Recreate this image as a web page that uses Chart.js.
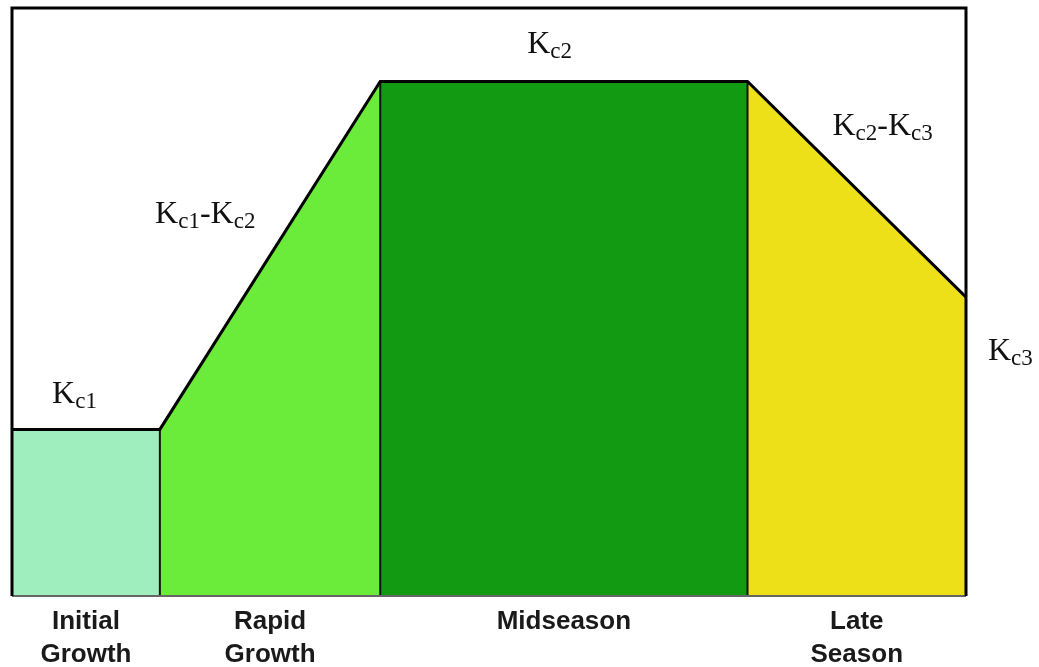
<!DOCTYPE html>
<html>
<head>
<meta charset="utf-8">
<script src="https://cdn.jsdelivr.net/npm/chart.js@4/dist/chart.umd.min.js"></script>
<style>
  html, body { margin: 0; padding: 0; background: #fff; }
  #wrap { width: 1039px; height: 667px; }
</style>
</head>
<body>
<div id="wrap"><canvas id="kcChart"></canvas></div>
<script>
// growth stages (percent of season) and crop coefficients
var stageBreaks = [0, 15.5, 38.6, 77.1, 100];
var kcValues    = [0.34, 0.34, 1.05, 1.05, 0.61];
var stageNames  = [['Initial', 'Growth'], ['Rapid', 'Growth'], ['Midseason'], ['Late', 'Season']];
var stageColors = ['#9eeebe', '#6beb3a', '#129a12', '#eee018'];

// curve labels: main text, subscript, position in data units
var kcLabels = [
  { parts: [['K', 'c1']],              x: 4.2,   y: 0.394 },
  { parts: [['K', 'c1'], ['-K', 'c2']], x: 15.0,  y: 0.761 },
  { parts: [['K', 'c2']],              x: 54.0,  y: 1.108 },
  { parts: [['K', 'c2'], ['-K', 'c3']], x: 86.0,  y: 0.941 },
  { parts: [['K', 'c3']],              x: 102.3, y: 0.482 }
];

var datasets = [];
// one filled area per stage
for (var i = 0; i < 4; i++) {
  datasets.push({
    data: [{x: stageBreaks[i], y: kcValues[i]}, {x: stageBreaks[i + 1], y: kcValues[i + 1]}],
    fill: 'origin',
    backgroundColor: stageColors[i],
    borderWidth: 0,
    pointRadius: 0,
    order: 3
  });
}
// stage dividers
for (var j = 1; j < 4; j++) {
  datasets.push({
    data: [{x: stageBreaks[j], y: 0}, {x: stageBreaks[j], y: kcValues[j]}],
    borderColor: '#111',
    borderWidth: 2,
    pointRadius: 0,
    fill: false,
    order: 2
  });
}
// Kc curve
datasets.push({
  data: stageBreaks.map(function (b, k) { return {x: b, y: kcValues[k]}; }),
  borderColor: '#000',
  borderWidth: 3,
  pointRadius: 0,
  fill: false,
  order: 1
});

var framePlugin = {
  id: 'frame',
  afterDatasetsDraw: function (chart) {
    var ctx = chart.ctx, a = chart.chartArea;
    ctx.save();
    ctx.strokeStyle = '#666';
    ctx.lineWidth = 2;
    ctx.beginPath();
    ctx.moveTo(a.left, a.bottom);
    ctx.lineTo(a.right, a.bottom);
    ctx.stroke();
    ctx.strokeStyle = '#000';
    ctx.lineWidth = 3;
    ctx.beginPath();
    ctx.moveTo(a.left, a.bottom);
    ctx.lineTo(a.left, a.top);
    ctx.lineTo(a.right, a.top);
    ctx.lineTo(a.right, a.bottom);
    ctx.stroke();

    // Kc labels with subscripts
    var xs = chart.scales.x, ys = chart.scales.y;
    ctx.fillStyle = '#111';
    ctx.textBaseline = 'alphabetic';
    ctx.textAlign = 'left';
    kcLabels.forEach(function (lb) {
      var px = xs.getPixelForValue(lb.x);
      var py = ys.getPixelForValue(lb.y);
      lb.parts.forEach(function (p) {
        ctx.font = '32px "Liberation Serif", "Times New Roman", serif';
        ctx.fillText(p[0], px, py);
        px += ctx.measureText(p[0]).width;
        ctx.font = '23px "Liberation Serif", "Times New Roman", serif';
        ctx.fillText(p[1], px, py + 5);
        px += ctx.measureText(p[1]).width;
      });
    });
    ctx.restore();
  }
};

var midpoints = [];
for (var m = 0; m < 4; m++) midpoints.push((stageBreaks[m] + stageBreaks[m + 1]) / 2);

new Chart(document.getElementById('kcChart'), {
  type: 'line',
  data: { datasets: datasets },
  options: {
    responsive: true,
    maintainAspectRatio: false,
    animation: false,
    layout: { padding: { left: 12, top: 8, right: 73, bottom: -14 } },
    plugins: { legend: { display: false }, tooltip: { enabled: false } },
    scales: {
      x: {
        type: 'linear',
        min: 0,
        max: 100,
        grid: { display: false, drawTicks: false },
        border: { display: false },
        afterBuildTicks: function (scale) {
          scale.ticks = midpoints.map(function (v) { return {value: v}; });
        },
        ticks: {
          autoSkip: false,
          maxRotation: 0,
          padding: 10,
          color: '#1a1a1a',
          font: { family: '"Liberation Sans", Arial, sans-serif', size: 26, weight: 'bold', lineHeight: 1.25 },
          callback: function (value, index) { return stageNames[index]; }
        }
      },
      y: {
        display: false,
        min: 0,
        max: 1.2
      }
    }
  },
  plugins: [framePlugin]
});
</script>
</body>
</html>
